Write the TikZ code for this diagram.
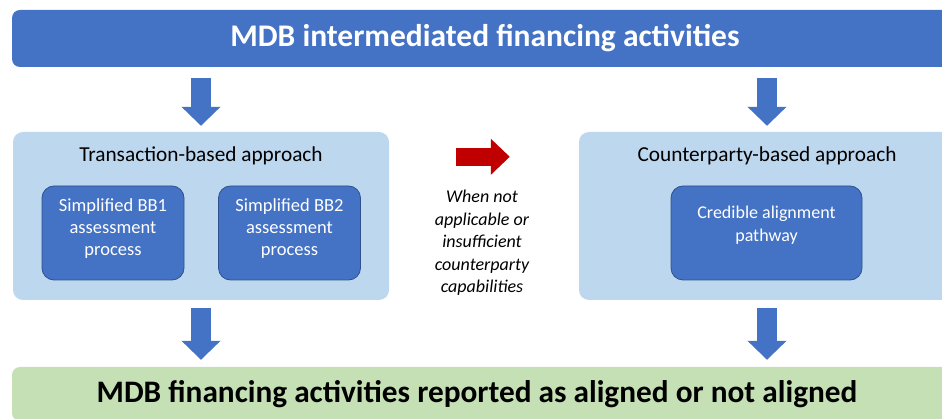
\documentclass[tikz,border=0pt]{standalone}
\usepackage{fontspec}
\setmainfont{Carlito}
\usetikzlibrary{arrows.meta,positioning}
\definecolor{mdbblue}{HTML}{4472C4}
\definecolor{mdbedge}{HTML}{2F528F}
\definecolor{paleblue}{HTML}{BDD7EE}
\definecolor{palegreen}{HTML}{C5E0B4}
\definecolor{signalred}{HTML}{C00000}
\begin{document}
\begin{tikzpicture}[x=1pt,y=-1pt,
  bar/.style={fill=mdbblue, rounded corners=8pt, text=white, minimum width=946pt, minimum height=57pt, font=\fontsize{31.5}{36}\selectfont\bfseries},
  result/.style={fill=palegreen, rounded corners=8pt, minimum width=946pt, minimum height=54pt},
  approach/.style={fill=paleblue, rounded corners=10pt, minimum width=376pt, minimum height=168pt},
  approachtitle/.style={font=\fontsize{21.3}{26}\selectfont},
  process/.style={fill=mdbblue, draw=mdbedge, line width=0.8pt, rounded corners=12pt, minimum height=94pt, text depth=12pt, text=white, align=center, font=\fontsize{18.5}{22}\selectfont},
  note/.style={align=center, font=\fontsize{18}{22.5}\selectfont\itshape},
  downarrow/.style={draw=mdbblue, line width=20pt, -{Triangle[length=19pt,width=38pt]}},
  sidearrow/.style={draw=signalred, line width=18pt, -{Triangle[length=19pt,width=35pt]}}]
\useasboundingbox (0,0) rectangle (942,419);

\node[bar] (mdb) at (485,38.5) {MDB intermediated financing activities};

\node[approach] (tb) at (201,216) {};
\node[approachtitle] (tbtitle) at ([yshift=-24pt]tb.north) {Transaction-based approach};
\node[process, minimum width=142pt] (bb1) at (113,233) {Simplified BB1\\assessment\\process};
\node[process, minimum width=142pt] (bb2) at (289.5,233) {Simplified BB2\\assessment\\process};

\node[approach] (cb) at (767,216) {};
\node[approachtitle] (cbtitle) at ([yshift=-24pt]cb.north) {Counterparty-based approach};
\node[process, minimum width=191pt] (cap) at (766.5,233) {};
\node[text=white, align=center, font=\fontsize{18}{23}\selectfont] (captext) at ([yshift=7.5pt]cap.center) {Credible alignment\\pathway};

\node[note] (when) at (482,243) {When not\\applicable or\\insufficient\\counterparty\\capabilities};

\node[result] (out) at (485,394) {};
\node[font=\fontsize{31.3}{36}\selectfont\bfseries] (outtext) at ([xshift=-8pt]out.center) {MDB financing activities reported as aligned or not aligned};

% flows
\draw[downarrow, shorten <=11pt, shorten >=6pt] (mdb.south -| tb.north) -- (tb.north);
\draw[downarrow, shorten <=11pt, shorten >=6pt] (mdb.south -| cb.north) -- (cb.north);
\draw[sidearrow, shorten <=67pt, shorten >=69pt] ([yshift=-1pt]tbtitle -| tb.east) -- ([yshift=-1pt]tbtitle -| cb.west);
\draw[downarrow, shorten <=8pt, shorten >=7pt] (tb.south) -- (out.north -| tb.south);
\draw[downarrow, shorten <=8pt, shorten >=7pt] (cb.south) -- (out.north -| cb.south);
\end{tikzpicture}
\end{document}
